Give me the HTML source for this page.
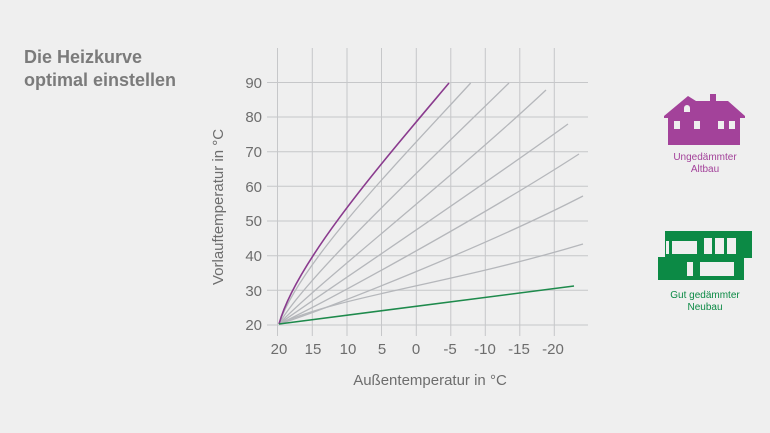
<!DOCTYPE html>
<html><head><meta charset="utf-8"><style>
body{margin:0;background:#efefef;}
svg{display:block;font-family:"Liberation Sans",sans-serif;}
</style></head><body>
<svg width="770" height="433" viewBox="0 0 770 433">
<rect width="770" height="433" fill="#efefef"/>
<text x="24" y="63" font-size="18" font-weight="bold" fill="#7b7b7b">Die Heizkurve</text>
<text x="24" y="86" font-size="18" font-weight="bold" fill="#7b7b7b">optimal einstellen</text>
<g stroke="#c6c7c9" stroke-width="1">
<line x1="277.5" y1="48" x2="277.5" y2="336"/><line x1="312.3" y1="48" x2="312.3" y2="336"/>
<line x1="347" y1="48" x2="347" y2="336"/><line x1="381.5" y1="48" x2="381.5" y2="336"/>
<line x1="416.3" y1="48" x2="416.3" y2="336"/><line x1="450.8" y1="48" x2="450.8" y2="336"/>
<line x1="485.3" y1="48" x2="485.3" y2="336"/><line x1="519.8" y1="48" x2="519.8" y2="336"/>
<line x1="554.3" y1="48" x2="554.3" y2="336"/>
<line x1="267" y1="82.5" x2="588" y2="82.5"/><line x1="267" y1="117" x2="588" y2="117"/>
<line x1="267" y1="151.7" x2="588" y2="151.7"/><line x1="267" y1="186.3" x2="588" y2="186.3"/>
<line x1="267" y1="221" x2="588" y2="221"/><line x1="267" y1="255.7" x2="588" y2="255.7"/>
<line x1="267" y1="290.3" x2="588" y2="290.3"/><line x1="267" y1="325" x2="588" y2="325"/>
</g>
<g font-size="15" fill="#6d6d6d" text-anchor="end">
<text x="262" y="88">90</text><text x="262" y="122">80</text><text x="262" y="157">70</text>
<text x="262" y="192">60</text><text x="262" y="226">50</text><text x="262" y="261">40</text>
<text x="262" y="296">30</text><text x="262" y="330">20</text>
</g>
<g font-size="15" fill="#6d6d6d" text-anchor="middle">
<text x="279" y="354">20</text><text x="313" y="354">15</text><text x="348" y="354">10</text>
<text x="382" y="354">5</text><text x="416" y="354">0</text><text x="450" y="354">-5</text>
<text x="485" y="354">-10</text><text x="519" y="354">-15</text><text x="553" y="354">-20</text>
</g>
<text x="430" y="385" font-size="15" fill="#6d6d6d" text-anchor="middle">Außentemperatur in °C</text>
<text transform="translate(223,207) rotate(-90)" font-size="15" fill="#6d6d6d" text-anchor="middle">Vorlauftemperatur in °C</text>
<g fill="none" stroke="#b5b7bb" stroke-width="1.3">
<path d="M279,324 C300,262 400,160 470.7,83"/>
<path d="M279,324 C305,278 420,170 509,83"/>
<path d="M279,324 C310,290 450,180 546,90"/>
<path d="M279,324 C315,298 470,195 568,124"/>
<path d="M279,324 C320,305 480,218 579,154"/>
<path d="M279,324 C325,310 490,244 583,196"/>
<path d="M279,324 C340,296 450,284 583,244"/>
</g>
<path d="M279,324 C296,262 380,165 449,83" fill="none" stroke="#8a3b8e" stroke-width="1.6"/>
<line x1="279" y1="324" x2="574" y2="286" stroke="#1e8a4c" stroke-width="1.6"/>
<g fill="#a3429a">
<polygon points="664,116 688,96 696,101 710,101 710,94 716,94 716,101 728,101 745,116 745,118 740,118 740,145 668,145 668,118 664,118"/>
</g>
<g fill="#efefef">
<rect x="674" y="121" width="6" height="8"/><rect x="694" y="121" width="6" height="8"/>
<rect x="718" y="121" width="6" height="8"/><rect x="729" y="121" width="6" height="8"/>
<path d="M684,112 v-4 a3,3 0 0 1 6,0 v4z"/>
</g>
<text x="705" y="160" font-size="10" fill="#a3429a" text-anchor="middle">Ungedämmter</text>
<text x="705" y="172" font-size="10" fill="#a3429a" text-anchor="middle">Altbau</text>
<rect x="665" y="231" width="87" height="27" fill="#0c8a45"/>
<rect x="658" y="257" width="86" height="23" fill="#0c8a45"/>
<g fill="#efefef">
<rect x="666" y="241" width="3" height="13"/><rect x="672" y="241" width="25" height="13"/>
<rect x="704" y="238" width="8" height="16"/><rect x="715" y="238" width="9" height="16"/>
<rect x="727" y="238" width="9" height="16"/>
<rect x="687" y="262" width="6" height="14"/><rect x="700" y="262" width="34" height="14"/>
</g>
<text x="705" y="298" font-size="10" fill="#0c8a45" text-anchor="middle">Gut gedämmter</text>
<text x="705" y="310" font-size="10" fill="#0c8a45" text-anchor="middle">Neubau</text>
</svg>
</body></html>
